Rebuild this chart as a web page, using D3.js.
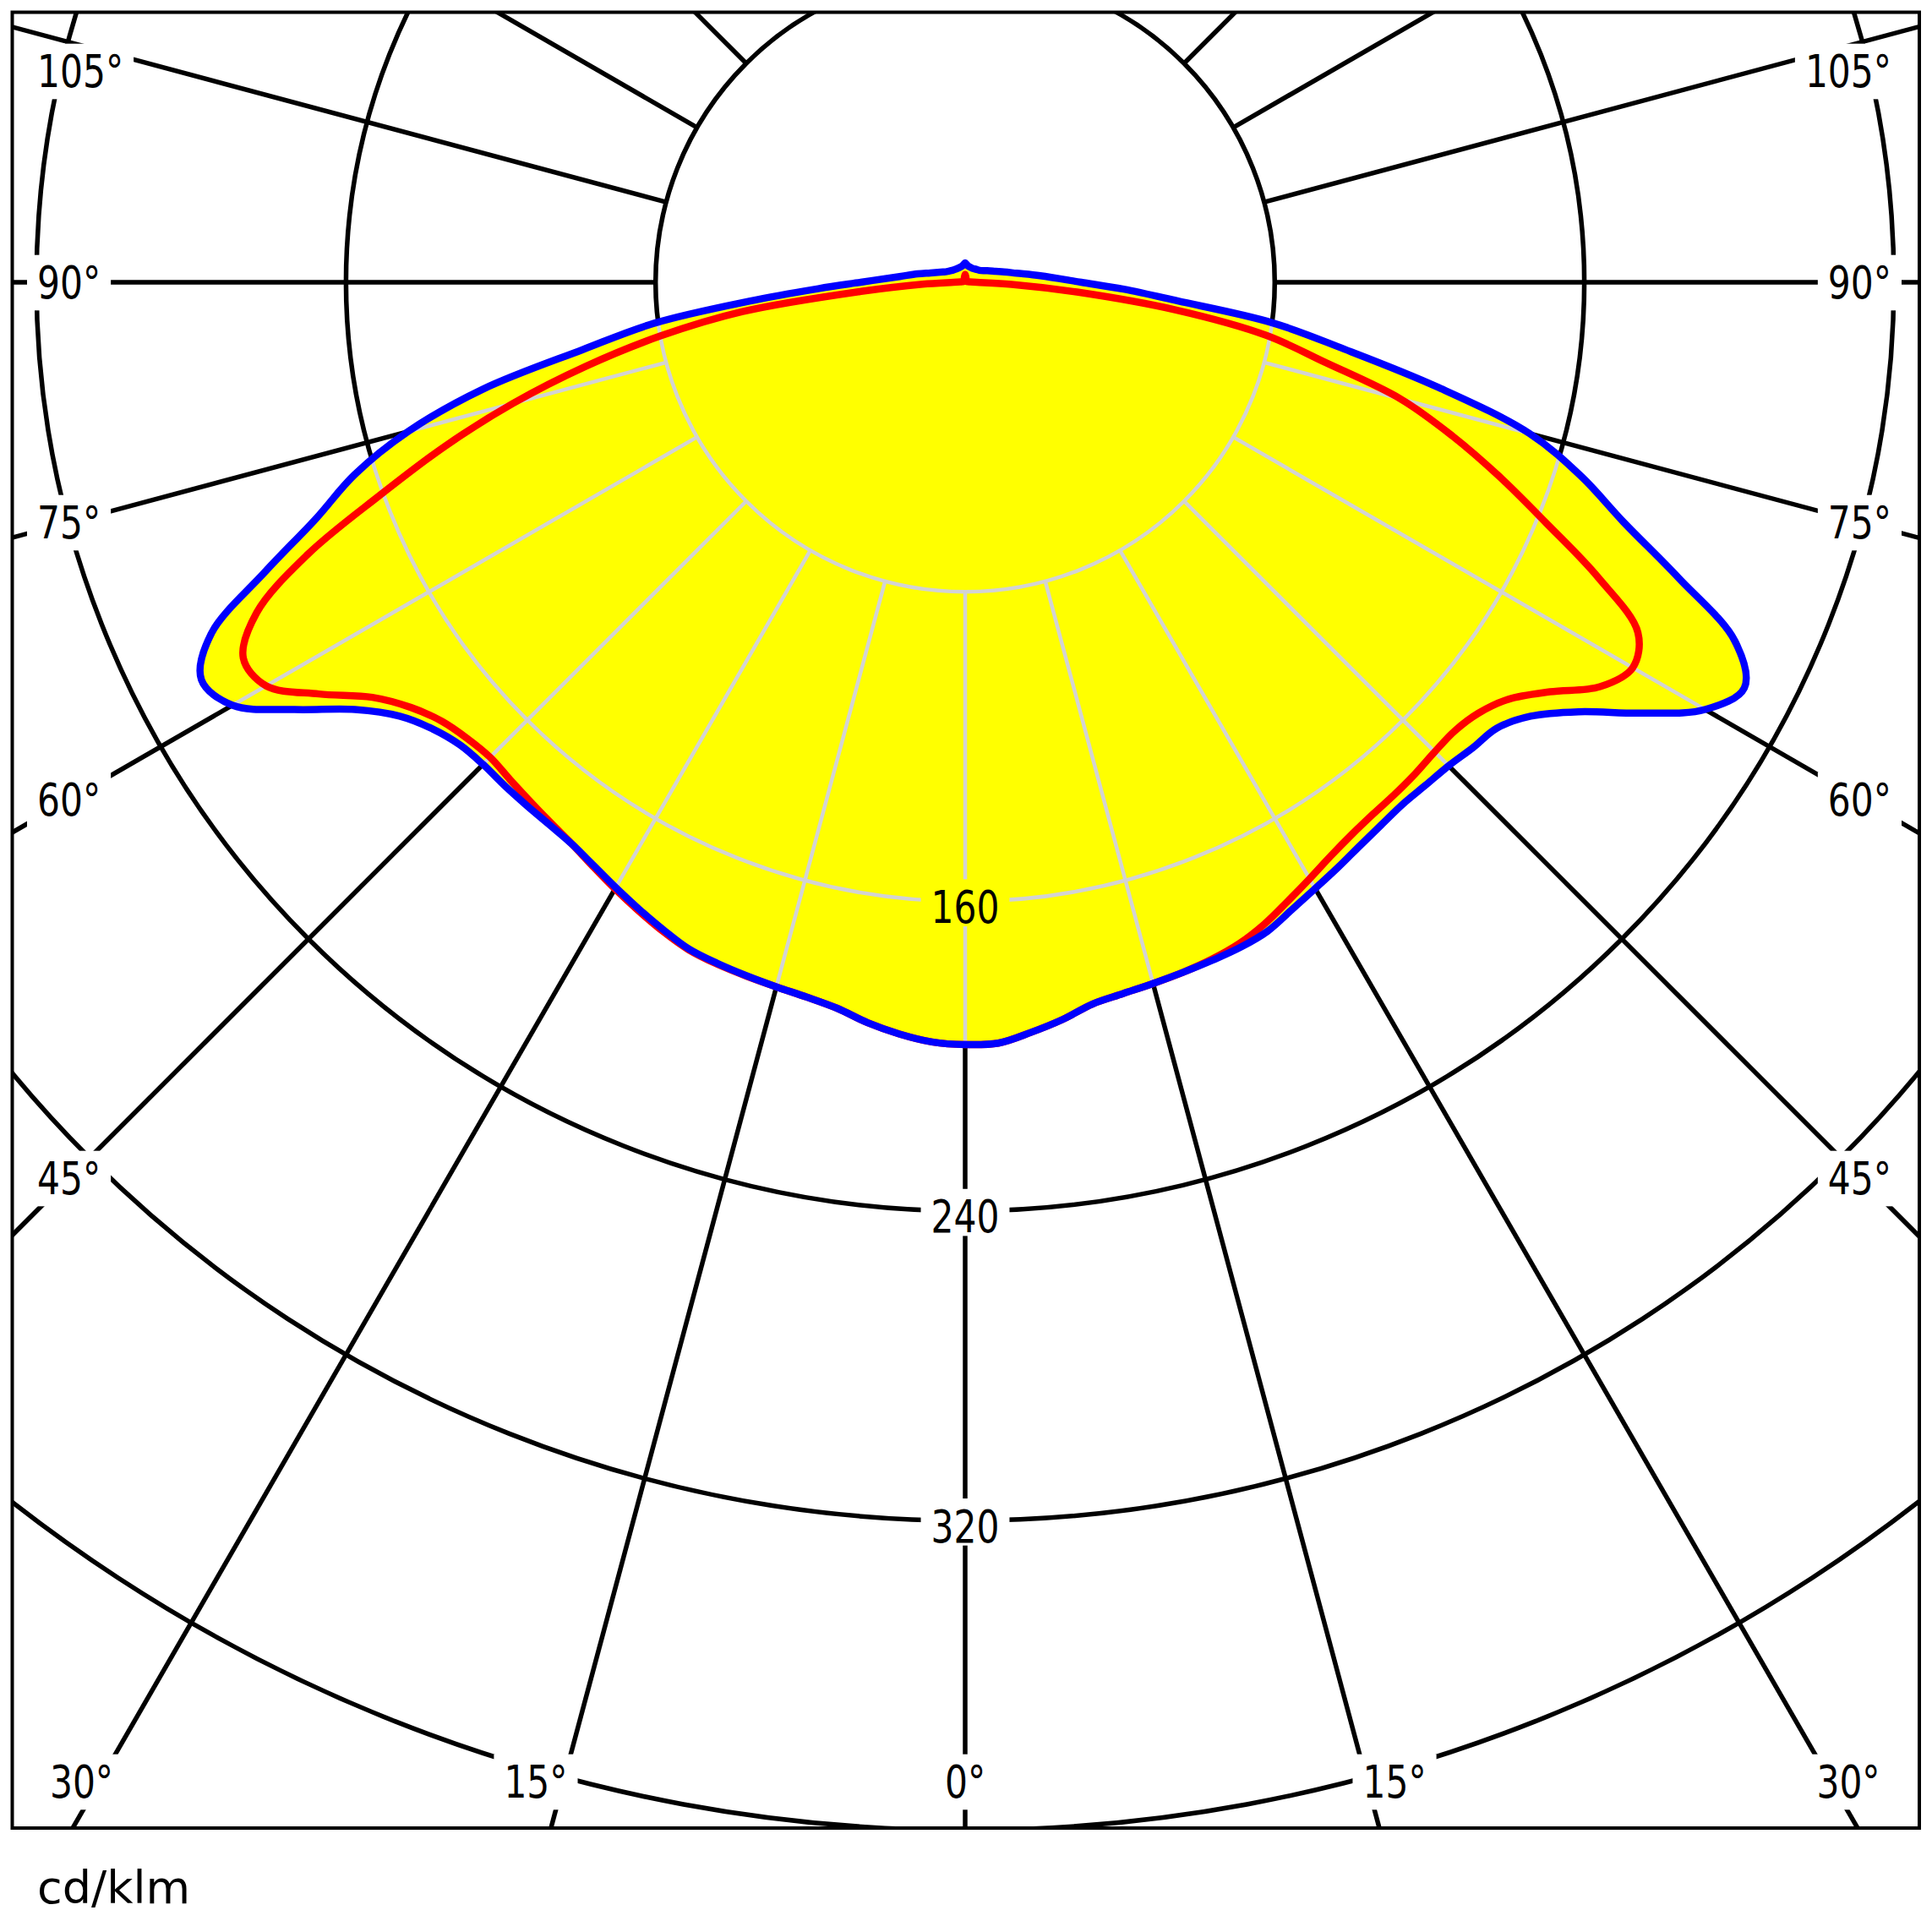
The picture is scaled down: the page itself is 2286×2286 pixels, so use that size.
<!DOCTYPE html>
<html>
<head>
<meta charset="utf-8">
<script src="https://cdn.jsdelivr.net/npm/d3@7"></script>
<style>
  html, body { margin: 0; padding: 0; background: #ffffff; }
  svg { display: block; }
</style>
</head>
<body>
<svg id="chart" width="2286" height="2286"></svg>
<script>
// ---------------- DATA ----------------
// gamma angles (degrees from nadir)
const gammaAngles = [0,2.5,5,7.5,10,12.5,15,17.5,20,22.5,25,27.5,30,32.5,35,37.5,40,42.5,45,47.5,50,52.5,55,57.5,60,62.5,65,67.5,70,72.5,75,77.5,80,82.5,85,87.5,90,95,100,105,110,115,120,130,140,150,160,170,175,180];

// luminous intensity, cd/klm
const blueRight = [197,196.8,194.6,192.2,189.4,188.3,187.6,187,186.5,186,185,182.8,180.9,179.3,177.8,176.7,176,176.2,176.7,178,179.3,184.2,193.5,207.2,220.8,227,219.5,199.5,181,167,151,125,99.5,80,55,41,30,19.5,13.5,10.4,8.3,7,6,4.8,4.4,4.1,4.1,4.3,4.6,5];
const blueLeft  = [197,196.5,195,193,190.5,189.2,188.5,187.9,187.3,186.5,184.6,182.6,180.6,178.7,177.2,176.6,176.4,176.3,176.2,177,179.6,184.2,192.5,205.5,218.6,222.5,215,196,178.5,165.5,149,127.7,100.5,81,56,38,27,17,12.5,9.3,7.5,6.3,5.5,4.7,4.3,4.1,4.1,4.3,4.6,5];
const redRight  = [197,196.8,194.6,192.2,189.4,188.3,187.6,187,186.2,185,183,180.4,178,175.8,174.2,173.2,172.7,172.2,171.6,171.6,173.2,177,184.5,194.5,199.2,196,180.5,162.5,147,132,116.5,95,79,55,29,12,3,1.2,0.8,0.6,0.5,0.5,0.5,0.5,0.5,0.6,0.8,1.2,1.6,2];
const redLeft   = [197,196.5,195,193,190.5,189.2,188.5,188,187.5,186.7,185,183,181,179,177.2,176,175,174.2,173.6,174.5,176.5,180.5,187,198,208.6,210.3,202,184,161,141,121,100.5,80,58,27,11,3,1.2,0.8,0.6,0.5,0.5,0.5,0.5,0.5,0.6,0.8,1.2,1.6,2];

// grid
const ringValues = [80,160,240,320,400];
const ringLabels = [160,240,320];
const spokeAngles = [0,15,30,45,60,75,90,105,120,135,150,165,180,195,210,225,240,255,270,285,300,315,330,345];
const sideLabelAngles = [45,60,75,90,105];
const bottomLabelAngles = [0,15,30];
const unitLabel = "cd/klm";

// ---------------- LAYOUT ----------------
const W = 2286;
const frame = {x0: 14.5, y0: 14.5, x1: 2271, y1: 2163};
const cx = 1142, cy = 334;
const rScale = d3.scaleLinear().domain([0, 80]).range([0, 366.3]);
const angleScale = d3.scaleLinear().domain([0, 180]).range([Math.PI, 0]);
const fontFamily = "'DejaVu Sans', Verdana, sans-serif";
const fontSize = 53;
const squeeze = 0.8;
const capH = 0.729 * fontSize;

function pt(gamma, value) {
  const p = d3.pointRadial(angleScale(gamma), rScale(value));
  return [cx + p[0], cy + p[1]];
}
function curvePoints(rightVals, leftVals) {
  const pts = [];
  gammaAngles.forEach((g, i) => pts.push(pt(g, rightVals[i])));
  for (let i = gammaAngles.length - 2; i >= 1; i--) pts.push(pt(360 - gammaAngles[i], leftVals[i]));
  return pts;
}
const lineGen = d3.line().x(d => d[0]).y(d => d[1]).curve(d3.curveCatmullRomClosed.alpha(0.5));
const bluePath = lineGen(curvePoints(blueRight, blueLeft));
const redPath = lineGen(curvePoints(redRight, redLeft));

const svg = d3.select("#chart");
svg.append("rect").attr("width", W).attr("height", W).attr("fill", "#ffffff");

const defs = svg.append("defs");
defs.append("clipPath").attr("id", "frameClip")
  .append("rect").attr("x", frame.x0).attr("y", frame.y0)
  .attr("width", frame.x1 - frame.x0).attr("height", frame.y1 - frame.y0);
const shapeClip = defs.append("clipPath").attr("id", "shapeClip");
shapeClip.append("path").attr("d", bluePath);
shapeClip.append("path").attr("d", redPath);
const mask = defs.append("mask").attr("id", "labelMask")
  .attr("maskUnits", "userSpaceOnUse").attr("x", 0).attr("y", 0).attr("width", W).attr("height", W);
mask.append("rect").attr("x", 0).attr("y", 0).attr("width", W).attr("height", W).attr("fill", "white");

function drawGrid(g, color, width) {
  ringValues.forEach(v => {
    g.append("circle").attr("cx", cx).attr("cy", cy).attr("r", rScale(v))
      .attr("fill", "none").attr("stroke", color).attr("stroke-width", width);
  });
  spokeAngles.forEach(a => {
    const p0 = pt(a, 80), p1 = pt(a, 700);
    g.append("line").attr("x1", p0[0]).attr("y1", p0[1]).attr("x2", p1[0]).attr("y2", p1[1])
      .attr("stroke", color).attr("stroke-width", width);
  });
}

// black grid
const outer = svg.append("g").attr("clip-path", "url(#frameClip)");
const gBlack = outer.append("g").attr("mask", "url(#labelMask)");
drawGrid(gBlack, "#000000", 5.5);

// yellow fill
outer.append("path").attr("d", bluePath).attr("fill", "#ffff00").attr("stroke", "none");
outer.append("path").attr("d", redPath).attr("fill", "#ffff00").attr("stroke", "none");

// light grid inside the fill
const gLight = outer.append("g").attr("clip-path", "url(#shapeClip)")
  .append("g").attr("mask", "url(#labelMask)");
drawGrid(gLight, "#d3d3d3", 4.5);

// curves
outer.append("path").attr("d", redPath).attr("fill", "none").attr("stroke", "#ff0000")
  .attr("stroke-width", 8.5).attr("stroke-linejoin", "round");
outer.append("path").attr("d", bluePath).attr("fill", "none").attr("stroke", "#0000ff")
  .attr("stroke-width", 8.5).attr("stroke-linejoin", "round");

// labels
const labels = [];
ringLabels.forEach(v => labels.push({text: String(v), x: cx, y: cy + rScale(v) + 25.5, anchor: "middle", kind: "value"}));
const sideRef = 1060;
sideLabelAngles.forEach(g => {
  let yc = cy + sideRef / Math.tan(g * Math.PI / 180);
  yc = Math.max(yc, 84);
  labels.push({text: g + "°", x: 44, y: yc + capH / 2, anchor: "start", kind: "angle"});
  labels.push({text: g + "°", x: 2238, y: yc + capH / 2, anchor: "end", kind: "angle"});
});
const bottomRef = 2230, bottomCenterY = 2108;
bottomLabelAngles.forEach(g => {
  const off = (bottomRef - cy) * Math.tan(g * Math.PI / 180);
  const xs = g === 0 ? [cx] : [cx - off, cx + off];
  xs.forEach(x => labels.push({text: g + "°", x: Math.max(96.5, Math.min(2187, x)), y: bottomCenterY + capH / 2, anchor: "middle", kind: "angle"}));
});

const gLabels = svg.append("g");
labels.forEach(l => {
  const t = gLabels.append("text")
    .attr("transform", `translate(${l.x},${l.y}) scale(${squeeze},1)`)
    .attr("text-anchor", l.anchor)
    .attr("font-family", fontFamily).attr("font-size", fontSize)
    .attr("fill", "#000000").text(l.text);
  const bb = t.node().getBBox();
  const left = l.x + bb.x * squeeze - 12;
  const right = l.x + (bb.x + bb.width) * squeeze + 12;
  const top = l.y - capH - 13;
  const bottom = l.y + (l.kind === "value" ? 4 : 14);
  mask.append("rect").attr("x", left).attr("y", top).attr("width", right - left).attr("height", bottom - top).attr("fill", "black");
});

svg.append("text").attr("x", 44).attr("y", 2252)
  .attr("font-family", fontFamily).attr("font-size", 54).attr("fill", "#000000").text(unitLabel);

// frame
svg.append("rect").attr("x", frame.x0).attr("y", frame.y0)
  .attr("width", frame.x1 - frame.x0).attr("height", frame.y1 - frame.y0)
  .attr("fill", "none").attr("stroke", "#000000").attr("stroke-width", 4);
</script>
</body>
</html>
